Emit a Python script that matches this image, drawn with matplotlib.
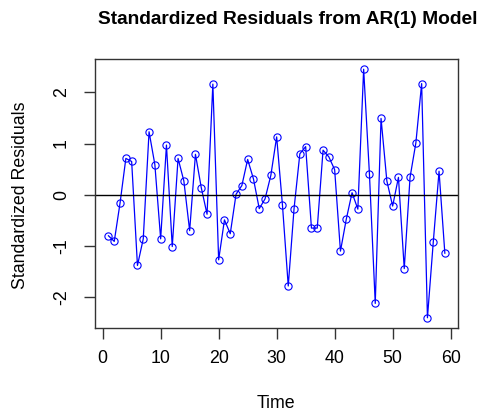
import matplotlib
matplotlib.use("Agg")
import matplotlib.pyplot as plt
import numpy as np

plt.rcParams['font.family'] = ['Liberation Sans', 'DejaVu Sans']

time = list(range(1, 60))
residuals = [-0.80, -0.91, -0.16, 0.71, 0.65, -1.38, -0.86, 1.23, 0.59, -0.86,
             0.97, -1.01, 0.71, 0.27, -0.70, 0.79, 0.14, -0.38, 2.16, -1.27,
             -0.49, -0.76, 0.01, 0.18, 0.69, 0.31, -0.27, -0.08, 0.38, 1.13,
             -0.20, -1.78, -0.27, 0.80, 0.94, -0.65, -0.65, 0.87, 0.74, 0.49,
             -1.10, -0.48, 0.04, -0.28, 2.45, 0.40, -2.12, 1.49, 0.27, -0.22,
             0.34, -1.44, 0.34, 1.01, 2.17, -2.40, -0.93, 0.46, -1.14]
xticks = [0, 10, 20, 30, 40, 50, 60]
yticks = [-2, -1, 0, 1, 2]

fig = plt.figure(figsize=(4.88, 4.11), dpi=100)
ax = fig.add_axes([95/488, 1-327.7/411, (458.3-95)/488, (327.7-59.3)/411])
ax.plot(time, residuals, color='blue', lw=0.9, marker='o', mfc='none',
        mec='blue', ms=5.2, mew=0.8)
ax.axhline(0, color='black', lw=1)

xr = max(time) - min(time)
ax.set_xlim(min(time) - 0.04*xr, max(time) + 0.04*xr)
yr = max(residuals) - min(residuals)
ax.set_ylim(min(residuals) - 0.04*yr, max(residuals) + 0.04*yr)

ax.set_xticks(xticks)
ax.set_yticks(yticks)
ax.set_yticklabels([str(v) for v in yticks], rotation=90, va='center')
ax.tick_params(direction='out', length=8, width=1, labelsize=12.8, pad=8,
               color='#333333')
ax.tick_params(axis='y', pad=10)
for s in ax.spines.values():
    s.set_color('#333333')
    s.set_linewidth(1)

fig.text(288/488, 1-20/411, 'Standardized Residuals from AR(1) Model',
         ha='center', va='center', fontsize=13.8, fontweight='bold')
fig.text(276/488, 1-403/411, 'Time', ha='center', va='center', fontsize=12.8)
fig.text(21/488, 1-195/411, 'Standardized Residuals', ha='center', va='center',
         fontsize=12.8, rotation=90)

fig.savefig('out.png', dpi=100)
